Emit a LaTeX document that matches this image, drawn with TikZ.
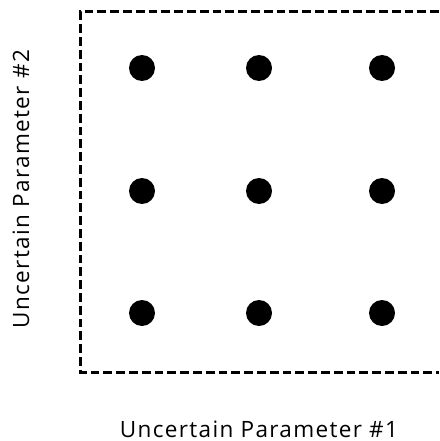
\documentclass[tikz,border=0pt]{standalone}
\usepackage{fontspec}
\setmainfont[LetterSpace=6]{Open Sans}
\usetikzlibrary{positioning}

\begin{document}
\begin{tikzpicture}[x=1pt,y=-1pt,
    gridpt/.style={circle,fill=black,inner sep=0pt,minimum size=26pt},
    axislabel/.style={font=\fontsize{22.5}{27}\selectfont,inner sep=0pt}]
    \useasboundingbox (0,0) rectangle (439,441);
    % dashed frame, open on the right
    \coordinate (tr) at (439,12);
    \coordinate (tl) at (80,12);
    \coordinate (bl) at (80,372);
    \coordinate (br) at (439,372);
    \draw[dash pattern=on 8.8pt off 4pt,line width=3pt] (tr) -- (tl) -- (bl) -- (br);
    % sample points
    \foreach \i/\x in {1/142,2/259,3/382}
        \foreach \j/\y in {1/68,2/191,3/313}
            \node[gridpt] (p\i\j) at (\x,\y) {};
    \node[axislabel,anchor=base] (xlab) at (259,437) {Uncertain Parameter \#1};
    \node[axislabel,anchor=base,rotate=90] (ylab) at (29,189) {Uncertain Parameter \#2};
\end{tikzpicture}
\end{document}
